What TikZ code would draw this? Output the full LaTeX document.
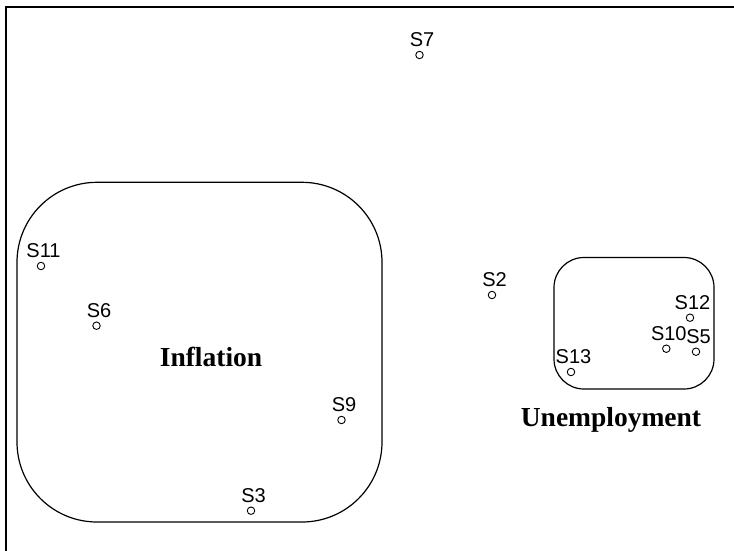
\documentclass[tikz,border=0pt]{standalone}
\usepackage{fontspec}
\setmainfont{Liberation Serif}
\newfontfamily\arialfont{Liberation Sans}
\begin{document}
\begin{tikzpicture}[x=1pt,y=-1pt,
  pt/.style={circle,draw,line width=0.9pt,minimum size=7.5pt,inner sep=0pt},
  lbl/.style={font=\arialfont\fontsize{20}{20}\selectfont,inner sep=0pt,anchor=center},
  grp/.style={draw,line width=1.2pt,rounded corners=#1},
  title/.style={font=\bfseries\fontsize{27.5}{28}\selectfont,inner sep=0pt,anchor=base}]
\useasboundingbox (0,0) rectangle (734,551);
% frame
\coordinate (ftr) at (734,7);
\coordinate (ftl) at (5.5,7);
\coordinate (fbl) at (5.5,551);
\draw[line width=2pt] (ftr) -- (ftl) -- (fbl);
% groups
\draw[grp=80] (17,182.3) rectangle (382,522);
\draw[grp=30] (554,257.5) rectangle (714,389);
\node[title] (tinf) at (211,366.7) {Inflation};
\node[title] (tune) at (611,426.7) {Unemployment};
% points
\foreach \n/\x/\y in {S7/419.5/55, S11/41/266, S6/96.5/325.7, S2/492/295, S9/341.5/420, S3/251/510.7, S12/690/317.7, S10/666.3/348.7, S5/696/351.7, S13/571/372}{
  \node[pt] (\n) at (\x,\y) {};
  \node[lbl] (l\n) at (\x+2.5,\y-15) {\n};
}
\end{tikzpicture}
\end{document}
